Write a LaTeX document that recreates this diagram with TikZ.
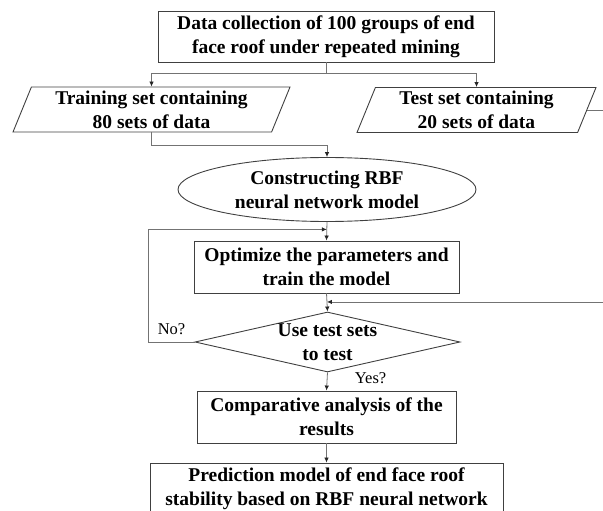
\documentclass[tikz,border=0pt]{standalone}
\usepackage{fontspec}
\setmainfont{Liberation Serif}
\usetikzlibrary{positioning,shapes.geometric,arrows.meta,calc}

\begin{document}
\begin{tikzpicture}
   [x=1pt,y=-1pt,
    txt/.style={font=\fontsize{19.5}{24}\selectfont\bfseries,align=center},
    shp/.style={draw=black!75,line width=0.9pt,inner sep=0pt,txt},
    box/.style={rectangle,shp,minimum height=52pt},
    io/.style={trapezium,trapezium left angle=64,trapezium right angle=116,
      trapezium stretches body,shp,minimum height=45pt},
    line/.style={draw=black!55,line width=0.8pt},
    arr/.style={line,-{Latex[length=5pt,width=4.5pt,color=black!85]}},
    note/.style={font=\fontsize{16.5}{19}\selectfont}]
\useasboundingbox (0,0) rectangle (603,511);
\node [box,minimum width=336pt,minimum height=51pt] (data) at (326,36.5)
   {Data collection of 100 groups of end\\face roof under repeated mining};
\node [io,minimum width=277pt] (train) at (151.5,109.5) {Training set containing\\80 sets of data};
\node [io,minimum width=239pt] (test) at (476.5,110) {Test set containing\\20 sets of data};
\node [ellipse,shp,minimum width=298pt,minimum height=64pt] (rbf) at (327,189.5)
   {Constructing RBF\\neural network model};
\node [box,minimum width=265pt] (opt) at (326.5,267) {Optimize the parameters and\\train the model};
\node [diamond,shp,minimum width=265pt,minimum height=60pt,
   label={[txt]center:Use test sets\\to test}] (dec) at (327.5,342) {};
\node [box,minimum width=259pt] (comp) at (326.5,417) {Comparative analysis of the\\results};
\node [box,minimum width=353pt,minimum height=51pt] (pred) at (326.5,488.5)
   {Prediction model of end face roof\\stability based on RBF neural network};
% split of the data set
\draw [line] (data.south) -- ++(0,11) coordinate (split);
\draw [arr] (split) -| (train.north);
\draw [arr] (split) -| (test.north);
\draw [arr] (train.south) -- ++(0,13) -| (rbf.north);
% main flow
\path (rbf.south) -- coordinate[pos=.4] (back) (opt.north);
\path (opt.south) -- coordinate[pos=.47] (join) (dec.north);
\draw [arr] (rbf.south) -- (opt.north);
\draw [arr] (opt.south) -- (dec.north);
\draw [arr] (test.east) -- ++(40,0) |- (join);
\draw [arr] (dec.west) -- node[above,note,yshift=4pt] {No?} ++(-46,0) |- (back);
\draw [arr] (dec.south) -- node[pos=.32,anchor=west,xshift=24pt,note] {Yes?} (comp.north);
\draw [arr] (comp.south) -- (pred.north);
\end{tikzpicture}
\end{document}
